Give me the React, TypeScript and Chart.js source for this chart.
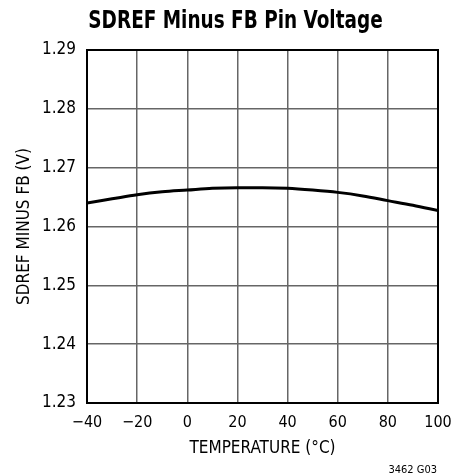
import React, { useEffect, useRef } from "react";
import { Chart, registerables } from "chart.js";

Chart.register(...registerables);

const temperatures = [-40, -30, -20, -10, 0, 10, 20, 30, 40, 50, 60, 70, 80, 90, 100];
const voltages = [1.2640, 1.2647, 1.2654, 1.2659, 1.2662, 1.2665, 1.2666, 1.2666, 1.2665, 1.2662, 1.2658, 1.2652, 1.2644, 1.2636, 1.2627];
const xTicks = [-40, -20, 0, 20, 40, 60, 80, 100];
const yTicks = [1.23, 1.24, 1.25, 1.26, 1.27, 1.28, 1.29];
const chartTitle = "SDREF Minus FB Pin Voltage";
const xTitle = "TEMPERATURE (°C)";
const yTitle = "SDREF MINUS FB (V)";
const footnote = "3462 G03";

const FONT = "'DejaVu Sans Condensed', 'Liberation Sans Narrow', sans-serif";

export default function App() {
  const ref = useRef<HTMLCanvasElement>(null);
  useEffect(() => {
    if (!ref.current) return;
    const decor = {
      id: "decor",
      afterDraw(chart: any) {
        const { ctx, chartArea } = chart;
        ctx.save();
        ctx.strokeStyle = "#000";
        ctx.lineWidth = 2;
        ctx.strokeRect(chartArea.left, chartArea.top, chartArea.right - chartArea.left, chartArea.bottom - chartArea.top);
        ctx.fillStyle = "#000";
        ctx.font = `11px ${FONT}`;
        ctx.textAlign = "right";
        ctx.textBaseline = "alphabetic";
        ctx.fillText(footnote, 437, 473);
        ctx.translate(235.5, 28);
        ctx.scale(0.82, 1);
        ctx.font = `bold 25px ${FONT}`;
        ctx.textAlign = "center";
        ctx.fillText(chartTitle, 0, 0);
        ctx.restore();
      },
    };
    const chart = new Chart(ref.current, {
      type: "line",
      data: {
        datasets: [
          {
            data: temperatures.map((t, i) => ({ x: t, y: voltages[i] })),
            borderColor: "#000",
            borderWidth: 3,
            pointRadius: 0,
            tension: 0.4,
            cubicInterpolationMode: "monotone",
            fill: false,
          },
        ],
      },
      options: {
        animation: false,
        responsive: false,
        layout: { padding: { top: 50, right: 32, left: 0, bottom: 0 } },
        plugins: { legend: { display: false }, tooltip: { enabled: false }, title: { display: false } },
        scales: {
          x: {
            type: "linear",
            min: -40,
            max: 100,
            afterFit: (s: any) => { s.height = 73; },
            afterBuildTicks: (s: any) => { s.ticks = xTicks.map((v) => ({ value: v })); },
            grid: { color: "#666", lineWidth: 1.5, drawTicks: false },
            border: { display: false },
            ticks: {
              padding: 10,
              color: "#000",
              font: { family: FONT, size: 16 },
              callback: (v: any) => (Number(v) < 0 ? "\u2212" + Math.abs(Number(v)) : String(v)),
            },
            title: { display: true, text: xTitle, color: "#000", font: { family: FONT, size: 17 }, padding: { top: 0, bottom: 17 } },
          },
          y: {
            type: "linear",
            min: 1.23,
            max: 1.29,
            afterFit: (s: any) => { s.width = 87; },
            afterBuildTicks: (s: any) => { s.ticks = yTicks.map((v) => ({ value: v })); },
            grid: { color: "#666", lineWidth: 1.5, drawTicks: false },
            border: { display: false },
            ticks: {
              padding: 11,
              color: "#000",
              font: { family: FONT, size: 17 },
              callback: (v: any) => Number(v).toFixed(2),
            },
            title: { display: true, text: yTitle, color: "#000", font: { family: FONT, size: 17 }, padding: { top: 14, bottom: 0 } },
          },
        },
      },
      plugins: [decor],
    } as any);
    return () => chart.destroy();
  }, []);
  return (
    <div style={{ position: "absolute", left: 0, top: 0, width: 470, height: 476, background: "#fff" }}>
      <canvas ref={ref} width={470} height={476} />
    </div>
  );
}
